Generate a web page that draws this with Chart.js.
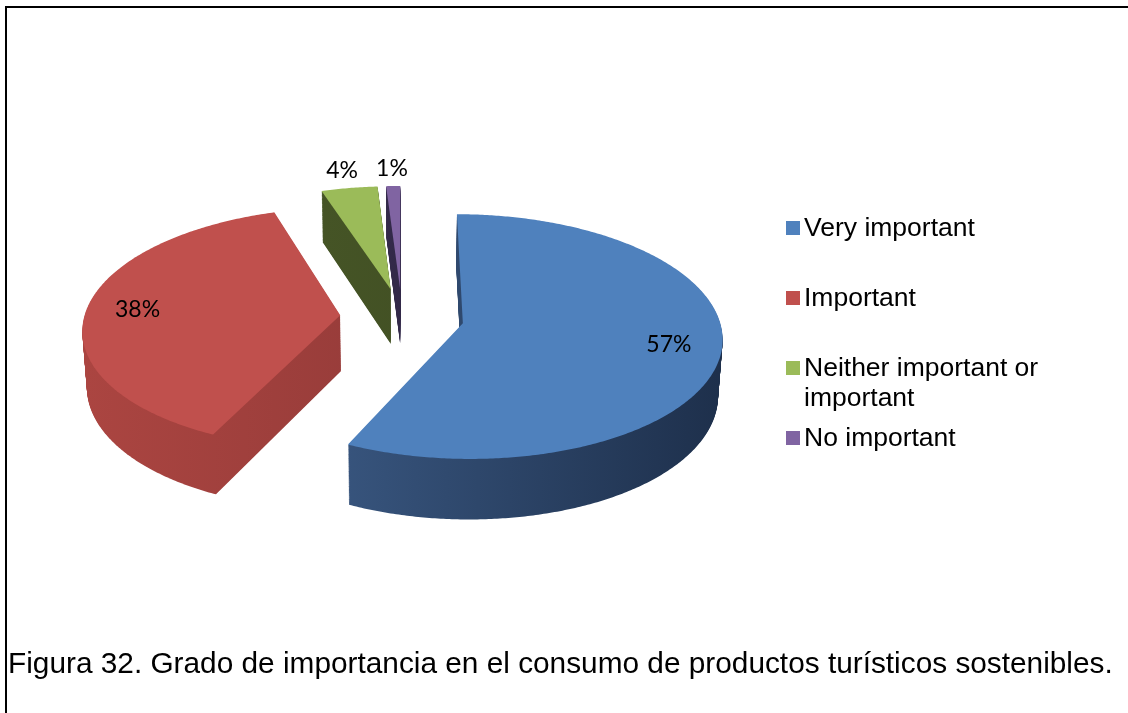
<!DOCTYPE html>
<html lang="es">
<head>
<meta charset="UTF-8">
<title>Figura 32</title>
<script src="https://cdn.jsdelivr.net/npm/chart.js@4.4.0/dist/chart.umd.min.js"></script>
<style>
    body{ margin:0; background:#fff; }
    /* marco: solo borde superior e izquierdo */
    #marco{
        position:absolute; left:5px; top:6px; width:1123px; height:707px;
        border-top:2px solid #000; border-left:2px solid #000;
    }
    #chart_parent{ position:absolute; left:0; top:0; width:1128px; height:713px; }
    #caption{
        position:absolute; left:8px; top:646px; white-space:nowrap;
        font-family:"Liberation Sans", Arial, sans-serif; font-size:29.8px; color:#000;
    }
</style>
</head>
<body>
<div id="marco"></div>
<div id="chart_parent">
    <canvas id="myChart" width="1128" height="713"></canvas>
</div>
<div id="caption">Figura 32. Grado de importancia en el consumo de productos turísticos sostenibles.</div>
<script>
    // datos
    var v_labels = ['Very important', 'Important', 'Neither important or important', 'No important'];
    var v_values = [57, 38, 4, 1];

    // estilo
    var v_top   = ['#4f81bd', '#c0504d', '#9bbb59', '#8064a2'];
    var v_side  = [['#40618e', '#1e304c'], ['#ab4541', '#883534'], ['#4b5b29', '#3b4820'], ['#3b3053', '#2a223e']];
    var v_thick = 64;      // grosor del pastel
    var v_explode = 62;    // separacion de las porciones
    var v_radius = 256;

    // camara en perspectiva (inclinacion ~28 grados)
    var v_L = 2107, v_sin = 0.467, v_cos = 0.884;

    // pastel 3D: lados extruidos + tapa, a partir de los arcos que calcula Chart.js
    const pie3d = {
        id: 'pie3d',
        beforeDatasetsDraw(chart) {
            const ctx = chart.ctx;
            const arcs = chart.getDatasetMeta(0).data;
            const ox = arcs[0].x, oy = arcs[0].y - 3;
            const proj = function(u, v, h){
                const depth = v_L - v * v_cos - h * v_sin;
                return [ox + v_L * u / depth, oy + v_L * (v * v_sin - h * v_cos) / depth];
            };
            const slicePath = function(a, h){
                const mid = (a.startAngle + a.endAngle) / 2;
                const ex = Math.cos(mid) * v_explode, ey = Math.sin(mid) * v_explode;
                const n = Math.max(2, Math.ceil((a.endAngle - a.startAngle) / 0.01));
                ctx.beginPath();
                let p = proj(ex, ey, h);
                ctx.moveTo(p[0], p[1]);
                for (let j = 0; j <= n; j++) {
                    const t = a.startAngle + (a.endAngle - a.startAngle) * j / n;
                    p = proj(ex + Math.cos(t) * a.outerRadius, ey + Math.sin(t) * a.outerRadius, h);
                    ctx.lineTo(p[0], p[1]);
                }
                ctx.closePath();
                return ex;
            };
            const order = [2, 3, 1, 0]; // de atras hacia adelante
            ctx.save();
            order.forEach(function(i){
                const a = arcs[i];
                // lados
                for (let h = -v_thick; h < 0; h++) {
                    const ex = slicePath(a, h);
                    const g = ctx.createLinearGradient(ox + ex - a.outerRadius, 0, ox + ex + a.outerRadius, 0);
                    g.addColorStop(0, v_side[i][0]);
                    g.addColorStop(1, v_side[i][1]);
                    ctx.fillStyle = g;
                    ctx.fill();
                }
                // tapa
                slicePath(a, 0);
                ctx.fillStyle = a.options.backgroundColor;
                ctx.fill();
            });
            ctx.restore();

            // etiquetas de porcentaje
            const total = v_values.reduce(function(s, v){ return s + v; }, 0);
            ctx.save();
            ctx.font = '23px Lato, "Open Sans", sans-serif';
            ctx.fillStyle = '#000';
            ctx.textAlign = 'center';
            ctx.textBaseline = 'middle';
            arcs.forEach(function(a, i){
                const pct = Math.round(v_values[i] / total * 100);
                const mid = (a.startAngle + a.endAngle) / 2;
                const r = v_explode + (pct >= 10 ? a.outerRadius * 0.8 : a.outerRadius + 50);
                const p = proj(Math.cos(mid) * r, Math.sin(mid) * r, 0);
                ctx.fillText(pct + '%', p[0], p[1]);
            });
            ctx.restore();
            return false;
        },
        afterDraw(chart) {
            const ctx = chart.ctx;
            // leyenda
            ctx.save();
            ctx.font = '26.5px "Liberation Sans", Arial, sans-serif';
            ctx.textBaseline = 'middle';
            ctx.textAlign = 'left';
            const maxW = 250;
            v_labels.forEach(function(lbl, i){
                const y0 = 228 + 70 * i;
                ctx.fillStyle = v_top[i];
                ctx.fillRect(786, y0 - 7, 14, 14);
                ctx.fillStyle = '#000';
                // ajuste de linea
                const words = lbl.split(' ');
                let line = '', lines = [];
                words.forEach(function(w){
                    const t = line ? line + ' ' + w : w;
                    if (ctx.measureText(t).width > maxW && line) { lines.push(line); line = w; }
                    else line = t;
                });
                lines.push(line);
                lines.forEach(function(l, j){ ctx.fillText(l, 804, y0 + 1 + j * 30); });
            });
            ctx.restore();
        }
    };

    const ctx = document.getElementById('myChart').getContext('2d');
    const myChart = new Chart(ctx, {
        type: 'pie',
        data: {
            labels: v_labels,
            datasets: [{
                data: v_values,
                backgroundColor: v_top,
                borderWidth: 0,
                radius: v_radius,
                clip: false
            }]
        },
        options: {
            responsive: false,
            animation: false,
            layout: { padding: { left: 0, right: 324, top: 0, bottom: 73 } },
            plugins: {
                legend: { display: false },
                tooltip: { enabled: false }
            }
        },
        plugins: [pie3d]
    });
</script>
</body>
</html>
